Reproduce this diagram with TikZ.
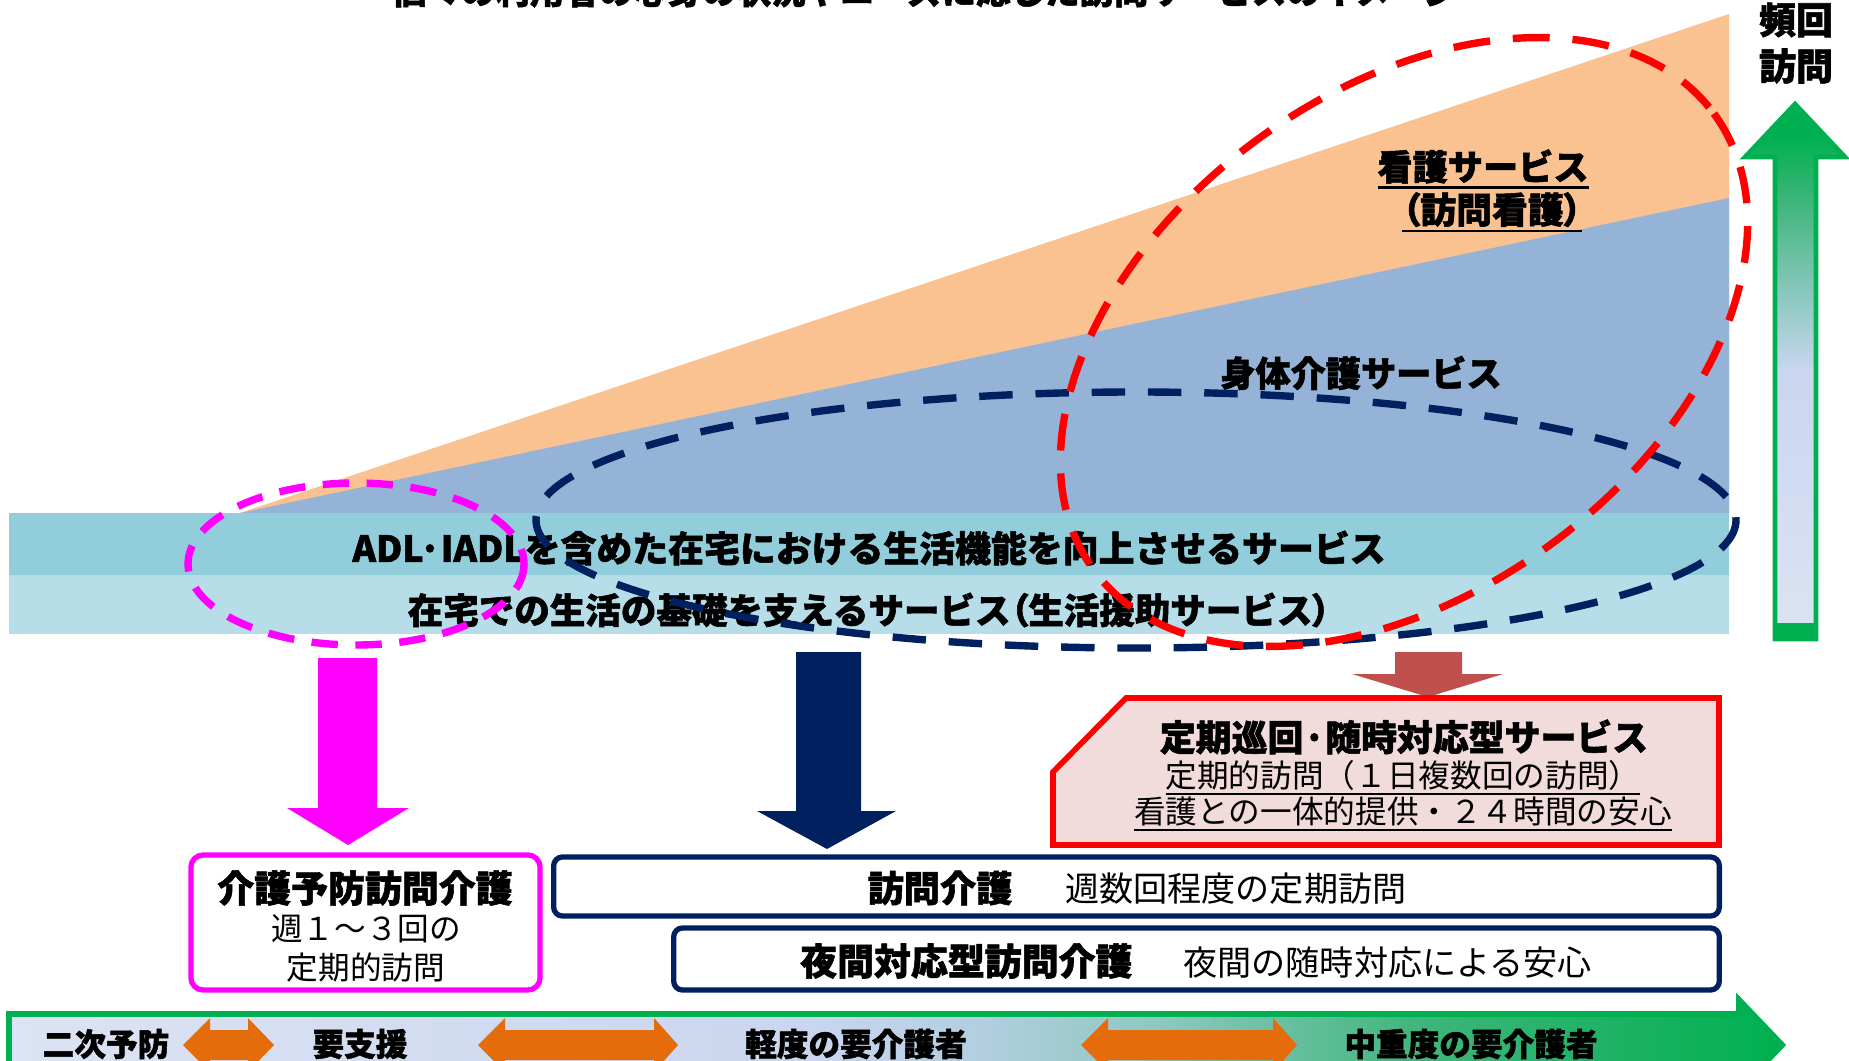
\documentclass[tikz,border=0pt]{standalone}
\usepackage{fontspec}
\newfontfamily\jp{Noto Sans CJK JP}[BoldFeatures={FakeBold=1.5}]
\newfontfamily\jpp{Noto Sans CJK JP}[RawFeature=+palt, BoldFeatures={FakeBold=1.5}]
\definecolor{orng}{HTML}{FAC191}
\definecolor{bluA}{HTML}{95B3D7}
\definecolor{stripeA}{HTML}{92CDDC}
\definecolor{stripeB}{HTML}{B7DEE8}
\definecolor{navy}{HTML}{002060}
\definecolor{mag}{HTML}{FF00FF}
\definecolor{redx}{HTML}{FF0000}
\definecolor{brick}{HTML}{C0504D}
\definecolor{pinkf}{HTML}{F2DCDB}
\definecolor{grn}{HTML}{00B050}
\definecolor{orarrow}{HTML}{E46C0A}
\definecolor{lavA}{HTML}{DCE3F3}
\definecolor{lavB}{HTML}{CAD6EF}
\definecolor{lavC}{HTML}{B2CEDF}
\definecolor{tealA}{HTML}{8CC8C0}
\definecolor{gmid}{HTML}{3DB57A}
\pgfdeclarehorizontalshading{barshade}{100bp}{color(0bp)=(lavA); color(25bp)=(lavA); color(47.5bp)=(lavB); color(52.5bp)=(lavC); color(57.5bp)=(tealA); color(65bp)=(gmid); color(75bp)=(grn); color(100bp)=(grn)}
\pgfdeclareverticalshading{upshade}{100bp}{color(0bp)=(lavA); color(25bp)=(lavA); color(50bp)=(lavB); color(57bp)=(tealA); color(66bp)=(gmid); color(72bp)=(grn); color(100bp)=(grn)}
\newcommand\fsz[1]{\fontsize{#1}{#1}\selectfont}
\newcommand\myul[3]{\setbox0=\hbox{#3}\rlap{\copy0}\rule[#1]{\wd0}{#2}}
\begin{document}
\begin{tikzpicture}[x=0.01cm,y=-0.01cm,
  bold/.style={inner sep=0pt, text=black, font=\jp\bfseries},
  reg/.style={inner sep=0pt, text=black, font=\jp},
  nbox/.style={draw=navy, line width=1.5pt, rounded corners=2.5pt, fill=white, inner sep=0pt},
  dashring/.style={line width=2.1pt}]
\useasboundingbox (0,0) rectangle (1849,1061);
\fill[white] (0,0) rectangle (1849,1061);
% title (cut by the top edge, as in the reference)
\node[bold, anchor=base] (title) at (925,4) {\fsz{9.8pt}個々の利用者の心身の状況やニーズに応じた訪問サービスのイメージ};
% service areas
\fill[orng] (240,513) -- (1729,14) -- (1729,513) -- cycle;
\fill[bluA] (240,513) -- (1729,198) -- (1729,513) -- cycle;
\fill[stripeA] (9,513) rectangle (1729,575);
\fill[stripeB] (9,575) rectangle (1729,634);
\node[bold] (kango1) at (1483,169) {\fsz{10pt}\myul{-2.4pt}{0.6pt}{看護サービス}};
\node[bold, font=\jpp\bfseries] (kango2) at (1492,212) {\fsz{10.2pt}\myul{-2.4pt}{0.6pt}{（訪問看護）}};
\node[bold] (shintai) at (1361,373) {\fsz{10pt}身体介護サービス};
\node[bold] (adl) at (869,548) {\fsz{10.2pt}ADL·IADLを含めた在宅における生活機能を向上させるサービス};
\node[bold] (seikatsu) at (869,610) {\fsz{10.1pt}在宅での生活の基礎を支えるサービス{\jpp（}生活援助サービス{\jpp）}};
% dashed rings
\draw[mag, dashring, dash pattern=on 7.5pt off 5pt] (356,564) ellipse [x radius=168, y radius=81];
\draw[navy, dashring, dash pattern=on 9.5pt off 6.5pt] (1136,520) ellipse [x radius=600, y radius=128];
\draw[redx, dashring, dash pattern=on 10.5pt off 6.5pt, rotate around={36.4:(1404,342)}] (1404,342) ellipse [x radius=385, y radius=250];
% up arrow
\shade[shading=upshade] (1775,639) -- (1775,157) -- (1745,157) -- (1795,104) -- (1845,157) -- (1816,157) -- (1816,639) -- cycle;
\fill[grn] (1775,623) rectangle (1816,639);
\draw[grn, line width=1.3pt, line join=miter] (1775,639) -- (1775,157) -- (1745,157) -- (1795,104) -- (1845,157) -- (1816,157) -- (1816,639) -- cycle;
\node[bold] (hinkai) at (1796,20) {\fsz{10.5pt}頻回};
\node[bold] (houmon) at (1796,66) {\fsz{10.5pt}訪問};
% down arrows
\fill[mag] (318,658) -- (377,658) -- (377,808) -- (409,808) -- (348,845) -- (287,808) -- (318,808) -- cycle;
\fill[navy] (796,652) -- (861,652) -- (861,811) -- (896,811) -- (827,849) -- (757,811) -- (796,811) -- cycle;
\fill[brick] (1395,652) -- (1462,652) -- (1462,674) -- (1503,674) -- (1428,697) -- (1352,674) -- (1395,674) -- cycle;
% red box
\draw[redx, fill=pinkf, line width=1.6pt] (1126,698) -- (1719,698) -- (1719,845) -- (1053,845) -- (1053,772) -- cycle;
\node[bold] (teiki) at (1404,737) {\fsz{10.2pt}定期巡回·随時対応型サービス};
\node[reg] (teiki2) at (1403,778) {\fsz{9pt}\myul{-2.2pt}{0.55pt}{定期的訪問（１日複数回の訪問）}};
\node[reg] (teiki3) at (1403,814) {\fsz{9pt}\myul{-2.2pt}{0.55pt}{看護との一体的提供・２４時間の安心}};
% magenta box
\node[draw=mag, line width=1.5pt, rounded corners=3.5pt, fill=white, minimum width=3.49cm, minimum height=1.35cm, inner sep=0pt] (yobo) at (365.5,922.5) {};
\node[bold] (yobo1) at (365,888) {\fsz{10.5pt}介護予防訪問介護};
\node[reg] (yobo2) at (366,929) {\fsz{9pt}週１～３回の};
\node[reg] (yobo3) at (366,967) {\fsz{9pt}定期的訪問};
% navy boxes
\node[nbox, minimum width=11.65cm, minimum height=0.59cm] (houmonkaigo) at (1136.5,886.5) {};
\node[inner sep=0pt] (hk) at (1137,888) {{\jp\bfseries\fsz{10.3pt}訪問介護}\hspace{15pt}{\jp\fsz{9.7pt}週数回程度の定期訪問}};
\node[nbox, minimum width=10.45cm, minimum height=0.62cm] (yakan) at (1196.5,959) {};
\node[inner sep=0pt] (yk) at (1196,961) {{\jp\bfseries\fsz{10.5pt}夜間対応型訪問介護}\hspace{14.5pt}{\jp\fsz{9.7pt}夜間の随時対応による安心}};
% bottom bar
\shade[shading=barshade] (9,1014) -- (1739,1014) -- (1739,1000) -- (1782,1045) -- (1739,1090) -- (1739,1076) -- (9,1076) -- cycle;
\draw[grn, line width=1.7pt] (9,1014) -- (1739,1014) -- (1739,1000) -- (1782,1045) -- (1739,1090) -- (1739,1076) -- (9,1076) -- cycle;
\foreach \L/\Lb/\Rb/\R in {183/210/248/274, 478/505/654/678, 1081/1108/1273/1297}{
  \fill[orarrow] (\L,1045) -- (\Lb,1018) -- (\Lb,1030) -- (\Rb,1030) -- (\Rb,1018) -- (\R,1045) -- (\Rb,1072) -- (\Rb,1060) -- (\Lb,1060) -- (\Lb,1072) -- cycle;
}
\node[bold] (niji) at (106,1044) {\fsz{9pt}二次予防};
\node[bold] (yoshien) at (360,1044) {\fsz{9pt}要支援};
\node[bold] (keido) at (856,1044) {\fsz{9pt}軽度の要介護者};
\node[bold] (chuju) at (1471,1044) {\fsz{9pt}中重度の要介護者};
\end{tikzpicture}
\end{document}
